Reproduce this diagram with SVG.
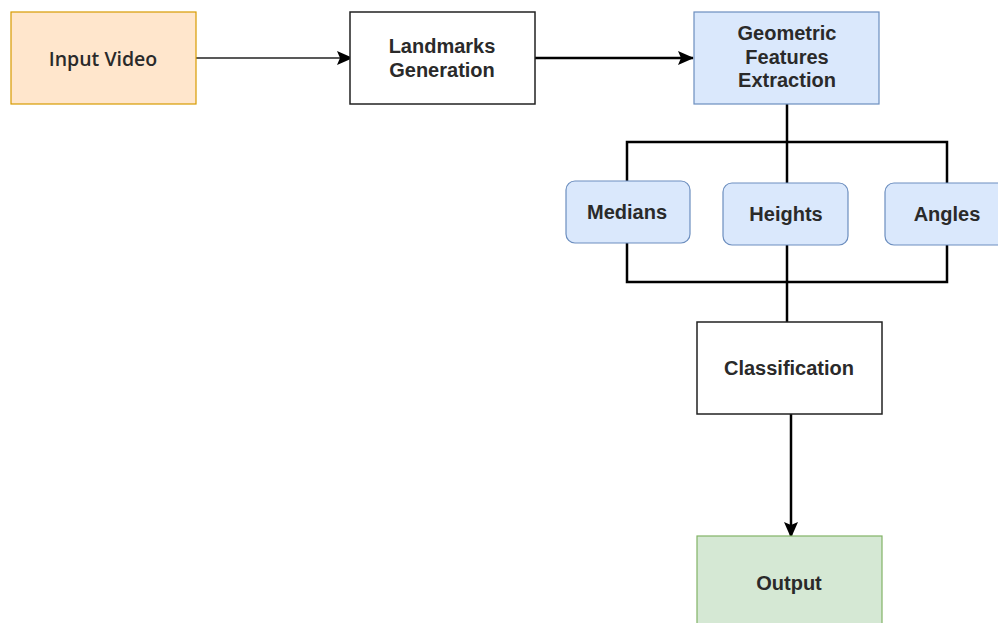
<svg xmlns="http://www.w3.org/2000/svg" width="998" height="623" viewBox="0 0 998 623">
<style>
.t{font-family:"Liberation Sans",Arial,sans-serif;font-size:20px;font-weight:bold;fill:#2a2a2a;text-anchor:middle;dominant-baseline:central}
.plain{fill:#fff;stroke:#222;stroke-width:1.5}
.blue{fill:#dae8fc;stroke:#6c8ebf;stroke-width:1.2}
.ln{fill:none;stroke:#000;stroke-width:2.5}
</style>
<defs>
<marker id="ah" viewBox="0 0 16 14" refX="15" refY="7" markerWidth="16" markerHeight="14" orient="auto" markerUnits="userSpaceOnUse">
<path d="M0,0 L16,7 L0,14 L3,7 Z" fill="#000"/>
</marker>
</defs>
<rect width="998" height="623" fill="#fff"/>
<g id="connectors">
<line x1="196" y1="58" x2="352" y2="58" stroke="#222" stroke-width="1.3" marker-end="url(#ah)"/>
<line x1="535" y1="58" x2="693" y2="58" stroke="#000" stroke-width="2.5" marker-end="url(#ah)"/>
<line class="ln" x1="787" y1="104" x2="787" y2="183"/>
<polyline class="ln" points="627,181 627,142 947,142 947,183"/>
<polyline class="ln" points="627,243 627,282 947,282 947,245"/>
<line class="ln" x1="787" y1="245" x2="787" y2="322"/>
<line class="ln" x1="791" y1="414" x2="791" y2="537" marker-end="url(#ah)"/>
</g>
<g id="input-video">
<rect x="11" y="12" width="185" height="92" fill="#ffe6cc" stroke="#d79b00" stroke-width="1.2"/>
<text class="t" x="103" y="58" style="font-family:'Open Sans','Noto Sans',sans-serif;font-weight:600;font-size:19.5px">Input Video</text>
</g>
<g id="landmarks">
<rect class="plain" x="350" y="12" width="185" height="92"/>
<text class="t" x="442" y="46">Landmarks</text>
<text class="t" x="442" y="70">Generation</text>
</g>
<g id="geometric">
<rect class="blue" x="694" y="12" width="185" height="92"/>
<text class="t" x="787" y="33">Geometric</text>
<text class="t" x="787" y="57">Features</text>
<text class="t" x="787" y="80">Extraction</text>
</g>
<g id="medians">
<rect class="blue" x="566" y="181" width="124" height="62" rx="9"/>
<text class="t" x="627" y="212">Medians</text>
</g>
<g id="heights">
<rect class="blue" x="723" y="183" width="125" height="62" rx="9"/>
<text class="t" x="786" y="214">Heights</text>
</g>
<g id="angles">
<rect class="blue" x="885" y="183" width="125" height="62" rx="9"/>
<text class="t" x="947" y="214">Angles</text>
</g>
<g id="classification">
<rect class="plain" x="697" y="322" width="185" height="92"/>
<text class="t" x="789" y="368">Classification</text>
</g>
<g id="output">
<rect x="697" y="536" width="185" height="95" fill="#d5e8d4" stroke="#82b366" stroke-width="1.2"/>
<text class="t" x="789" y="583">Output</text>
</g>
</svg>
